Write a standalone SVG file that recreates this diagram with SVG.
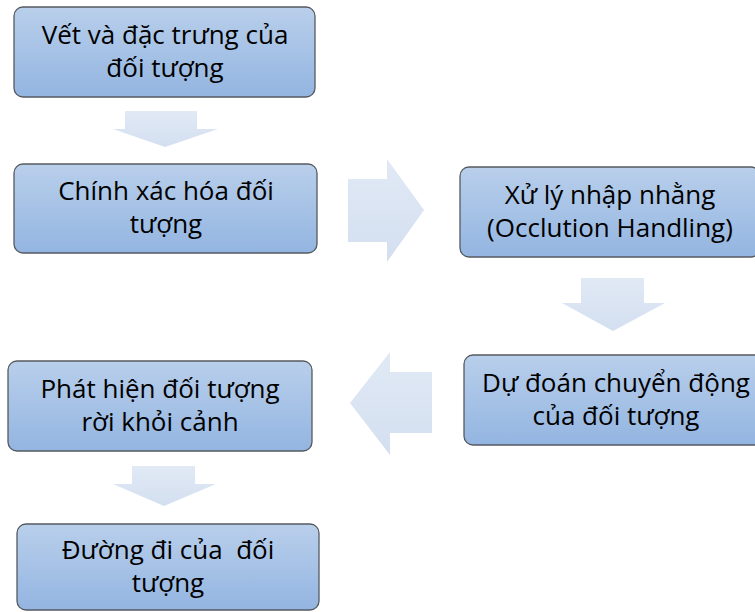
<svg xmlns="http://www.w3.org/2000/svg" width="755" height="612" viewBox="0 0 755 612">
  <defs>
    <linearGradient id="boxFill" x1="0" y1="0" x2="0" y2="1">
      <stop offset="0" stop-color="#b9cfeb"/>
      <stop offset="1" stop-color="#93b5e1"/>
    </linearGradient>
    <linearGradient id="arrowFill" x1="0" y1="0" x2="0" y2="1">
      <stop offset="0" stop-color="#e1e9f5"/>
      <stop offset="1" stop-color="#d3dff0"/>
    </linearGradient>
    <style>
      .box { fill: url(#boxFill); stroke: #555a60; stroke-width: 1.3; }
      .arrow { fill: url(#arrowFill); stroke: none; }
      .label { font-family: "Open Sans", "Noto Sans", sans-serif; font-size: 26px; fill: #000; text-anchor: middle; }
    </style>
  </defs>

  <rect width="755" height="612" fill="#ffffff"/>

  <!-- flow arrows -->
  <g id="connectors">
    <polygon class="arrow" points="125,111 197,111 197,129 218,129 165,147 113,129 125,129"/>
    <polygon class="arrow" points="348,179 387,179 387,159 424,210 387,262 387,242 348,242"/>
    <polygon class="arrow" points="581,278 644,278 644,303 665,303 613,331 562,303 581,303"/>
    <polygon class="arrow" points="432,372 390,372 390,352 350,403 390,455 390,433 432,433"/>
    <polygon class="arrow" points="132,466 195,466 195,484 216,484 164,506 113,484 132,484"/>
  </g>

  <g id="node-vet">
    <rect class="box" x="14" y="7" width="301" height="90" rx="9"/>
    <text class="label" x="165" y="44">Vết và đặc trưng của</text>
    <text class="label" x="165" y="77">đối tượng</text>
  </g>

  <g id="node-chinh-xac">
    <rect class="box" x="14" y="164" width="303" height="89" rx="9"/>
    <text class="label" x="166" y="200">Chính xác hóa đối</text>
    <text class="label" x="166" y="233">tượng</text>
  </g>

  <g id="node-occlusion">
    <rect class="box" x="460" y="167" width="300" height="90" rx="9"/>
    <text class="label" x="610" y="204">Xử lý nhập nhằng</text>
    <text class="label" x="610" y="237">(Occlution Handling)</text>
  </g>

  <g id="node-du-doan">
    <rect class="box" x="464" y="355" width="304" height="90" rx="9"/>
    <text class="label" x="616" y="392">Dự đoán chuyển động</text>
    <text class="label" x="616" y="425">của đối tượng</text>
  </g>

  <g id="node-roi-canh">
    <rect class="box" x="8" y="361" width="304" height="90" rx="9"/>
    <text class="label" x="160" y="398">Phát hiện đối tượng</text>
    <text class="label" x="160" y="431">rời khỏi cảnh</text>
  </g>

  <g id="node-duong-di">
    <rect class="box" x="17" y="524" width="302" height="86" rx="9"/>
    <text class="label" x="168" y="559" xml:space="preserve">Đường đi của  đối</text>
    <text class="label" x="168" y="592">tượng</text>
  </g>
</svg>
